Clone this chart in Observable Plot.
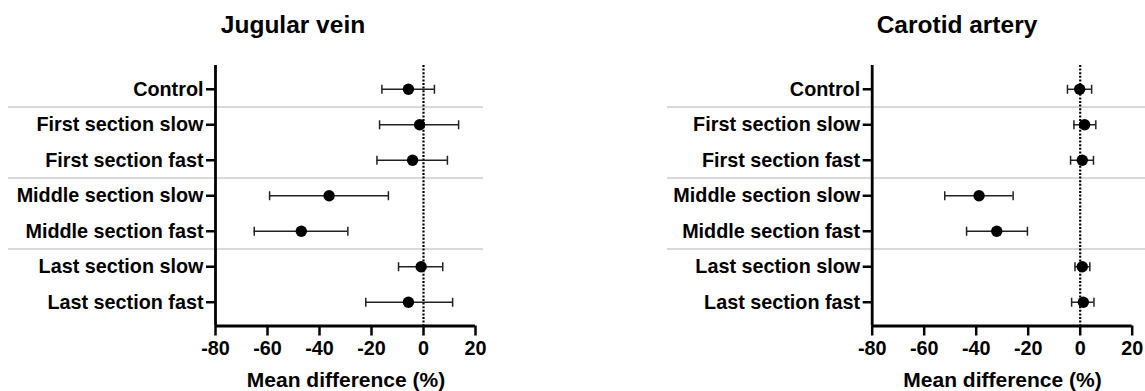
<!DOCTYPE html>
<html><head><meta charset="utf-8">
<script src="https://cdn.jsdelivr.net/npm/d3@7"></script>
<script src="https://cdn.jsdelivr.net/npm/@observablehq/plot@0.6"></script>
<style>
html,body{margin:0;padding:0;background:#fff;width:1145px;height:391px;overflow:hidden;}
#root{position:relative;width:1145px;height:391px;font-family:"Liberation Sans",Arial,sans-serif;font-weight:bold;color:#000;}
.panel{position:absolute;top:0;}
.title{position:absolute;top:10.5px;width:300px;text-align:center;font-size:24.5px;line-height:normal;}
.xlabel{position:absolute;top:368px;width:300px;text-align:center;font-size:21px;line-height:normal;}
#root svg g[aria-label*="axis"] line, #root svg g[aria-label*="axis"] path{stroke-width:2.5px;stroke:#000;}
</style></head><body><div id="root"></div>
<script>
const categories = ["Control","First section slow","First section fast","Middle section slow","Middle section fast","Last section slow","Last section fast"];
const groupStarts = ["First section slow","Middle section slow","Last section slow"];
const xTicks = [-80,-60,-40,-20,0,20];
const panelTitles = ["Jugular vein","Carotid artery"];
const axisLabel = "Mean difference (%)";
const jugularMean = [-5.8,-1.5,-4.2,-36.3,-47,-0.9,-5.8];
const jugularLow  = [-16,-16.9,-17.9,-59.2,-65.1,-9.6,-22.2];
const jugularHigh = [4.2,13.5,9.2,-13.5,-29.1,7.4,11.2];
const carotidMean = [-0.2,1.7,0.8,-38.9,-32.1,0.8,1.2];
const carotidLow  = [-4.9,-2.4,-3.7,-52.1,-43.7,-2,-3.3];
const carotidHigh = [4.4,6,5.1,-25.8,-20.3,3.7,5.3];

const root = document.getElementById("root");
const capSymbol = {draw(ctx, size){const h = Math.sqrt(size/Math.PI); ctx.moveTo(0,-h); ctx.lineTo(0,h);}};

function panel(o){
  const rows = categories.map((c,i)=>({i, c, mean:o.mean[i], lo:o.lo[i], hi:o.hi[i]}));
  const seps = groupStarts.map(c => ({i: categories.indexOf(c) - 0.5}));
  const pad = 0.67;
  const yDomain = [-pad, categories.length - 1 + pad];
  const svg = Plot.plot({
    width:o.width, height:391, marginLeft:o.marginLeft, marginRight:o.marginRight, marginTop:65, marginBottom:65.5,
    style:{fontFamily:"'Liberation Sans', Arial, sans-serif", fontSize:"19.8px", fontWeight:"bold", color:"#000", background:"transparent", overflow:"visible"},
    x:{domain:[xTicks[0], xTicks[xTicks.length-1]], ticks:xTicks, tickSize:10, tickPadding:5, label:null, tickFormat:d=>String(d)},
    y:{domain:yDomain, reverse:true, ticks:categories.map((c,i)=>i), tickFormat:i=>categories[i], tickSize:9, tickPadding:3, label:null},
    marks:[
      Plot.ruleY(seps, {y:"i", stroke:"#b3b3b3", strokeWidth:1}),
      Plot.ruleX([0], {stroke:"#000", strokeWidth:2.2, strokeDasharray:"2,1.6"}),
      Plot.ruleY(rows, {y:"i", x1:"lo", x2:"hi", stroke:"#222", strokeWidth:1.5}),
      Plot.dot(rows, {x:"lo", y:"i", symbol:capSymbol, r:4.5, stroke:"#222", strokeWidth:1.5, fill:"none"}),
      Plot.dot(rows, {x:"hi", y:"i", symbol:capSymbol, r:4.5, stroke:"#222", strokeWidth:1.5, fill:"none"}),
      Plot.dot(rows, {x:"mean", y:"i", r:5.7, fill:"#000", stroke:"none"}),
      Plot.ruleX([xTicks[0]], {stroke:"#000", strokeWidth:2.8}),
      Plot.ruleY([yDomain[1]], {stroke:"#000", strokeWidth:2.8})
    ]
  });
  const sepGroup = svg.querySelector('g[aria-label="rule"]');
  if (sepGroup) sepGroup.querySelectorAll("line").forEach(l => {l.setAttribute("x1", o.sepLeft); l.setAttribute("x2", o.sepRight);});
  const div = document.createElement("div");
  div.className = "panel";
  div.style.left = o.left + "px";
  div.style.width = o.width + "px";
  div.appendChild(svg);
  root.appendChild(div);
  const t = document.createElement("div");
  t.className = "title"; t.textContent = o.title; t.style.left = (o.titleX - 150) + "px";
  root.appendChild(t);
  const xl = document.createElement("div");
  xl.className = "xlabel"; xl.textContent = axisLabel; xl.style.left = (o.labelX - 150) + "px";
  root.appendChild(xl);
}

panel({left:0, width:490, marginLeft:215, marginRight:15, sepLeft:8, sepRight:483, titleX:293, labelX:346,
  title:panelTitles[0], mean:jugularMean, lo:jugularLow, hi:jugularHigh});
panel({left:660, width:485, marginLeft:211.7, marginRight:13.3, sepLeft:7, sepRight:485, titleX:957, labelX:1002.5,
  title:panelTitles[1], mean:carotidMean, lo:carotidLow, hi:carotidHigh});
</script>
</body></html>
